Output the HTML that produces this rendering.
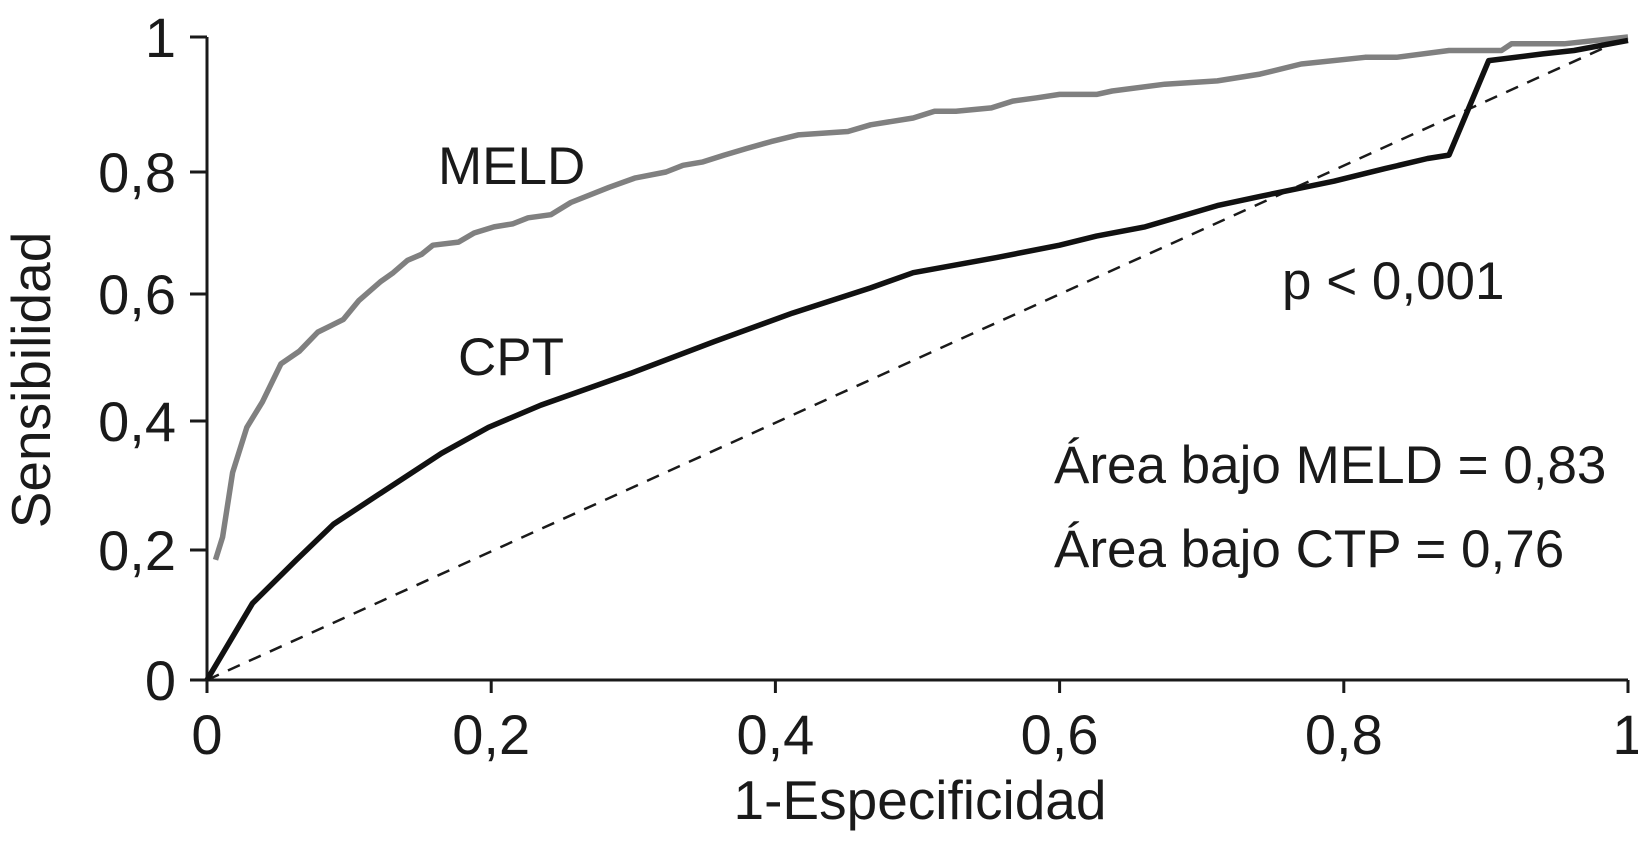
<!DOCTYPE html>
<html><head><meta charset="utf-8"><style>
html,body{margin:0;padding:0;background:#fff;}
svg text{font-family:"Liberation Sans",sans-serif;fill:#1a1a1a;}
</style></head><body>
<svg id="chart" width="1638" height="859" viewBox="0 0 1638 859" xmlns="http://www.w3.org/2000/svg">
<g id="axes"></g>
<g id="marks"></g>
<text x="438" y="184" font-size="53">MELD</text>
<text x="458" y="375" font-size="53">CPT</text>
<text x="1282" y="299" font-size="53">p &lt; 0,001</text>
<text x="1054" y="483" font-size="53">Área bajo MELD = 0,83</text>
<text x="1054" y="567" font-size="53">Área bajo CTP = 0,76</text>
<text x="920" y="819" font-size="55" text-anchor="middle">1-Especificidad</text>
<text x="0" y="0" font-size="55" text-anchor="middle" transform="translate(50,380) rotate(-90)">Sensibilidad</text>
</svg>
<script>
const xTickValues = [0, 0.2, 0.4, 0.6, 0.8, 1];
const xTickLabels = ["0", "0,2", "0,4", "0,6", "0,8", "1"];
const yTickValues = [0, 0.2, 0.4, 0.6, 0.8, 1];
const yTickLabels = ["0", "0,2", "0,4", "0,6", "0,8", "1"];
const meldX = [0.006,0.011,0.018,0.028,0.039,0.052,0.065,0.078,0.087,0.096,0.107,0.122,0.131,0.141,0.151,0.159,0.177,0.188,0.202,0.215,0.226,0.242,0.256,0.283,0.301,0.323,0.335,0.349,0.364,0.380,0.397,0.416,0.451,0.467,0.497,0.512,0.527,0.552,0.567,0.584,0.600,0.626,0.637,0.674,0.711,0.741,0.770,0.815,0.837,0.874,0.911,0.918,0.955,1.0];
const meldY = [0.185,0.22,0.32,0.39,0.43,0.49,0.51,0.54,0.55,0.56,0.59,0.62,0.635,0.655,0.665,0.68,0.685,0.70,0.71,0.715,0.725,0.73,0.75,0.775,0.79,0.80,0.81,0.815,0.825,0.835,0.845,0.855,0.86,0.87,0.88,0.89,0.89,0.895,0.905,0.91,0.915,0.915,0.92,0.93,0.935,0.945,0.96,0.97,0.97,0.98,0.98,0.99,0.99,1.0];
const cptX = [0,0.032,0.063,0.089,0.120,0.165,0.198,0.235,0.298,0.357,0.412,0.467,0.497,0.556,0.600,0.626,0.660,0.711,0.741,0.793,0.829,0.859,0.874,0.902,0.940,0.962,1.0];
const cptY = [0,0.118,0.185,0.24,0.285,0.35,0.39,0.425,0.475,0.525,0.57,0.61,0.635,0.66,0.68,0.695,0.71,0.745,0.76,0.785,0.805,0.82,0.825,0.965,0.975,0.98,0.995];
const refX = [0, 1];
const refY = [0, 1];

const X0 = 207, X1 = 1628;
const yPix = [680, 550, 421, 294, 172, 37];
function xs(v){ return X0 + v*(X1-X0); }
function ys(v){
  const s = v/0.2; let i = Math.floor(s); if(i<0) i=0; if(i>4) i=4;
  const f = s - i; return yPix[i] + f*(yPix[i+1]-yPix[i]);
}
const NS = "http://www.w3.org/2000/svg";
const axes = document.getElementById('axes');
const marks = document.getElementById('marks');
function mk(tag, attrs, parent){ const e=document.createElementNS(NS,tag); for(const k in attrs) e.setAttribute(k,attrs[k]); parent.appendChild(e); return e; }

let el = mk('line',{x1:X0,y1:ys(0),x2:X1,y2:ys(0),stroke:'#1a1a1a','stroke-width':3},axes);


el = mk('line',{x1:X0,y1:ys(0)+12,x2:X0,y2:ys(1),stroke:'#1a1a1a','stroke-width':3},axes);



xTickValues.forEach((v,i)=>{
  const t = mk('line',{x1:xs(v),y1:ys(0),x2:xs(v),y2:ys(0)+13,stroke:'#1a1a1a','stroke-width':3},axes);
  
  
  const tx = mk('text',{x:xs(v),y:ys(0)+74,'font-size':56,'text-anchor':'middle'},axes);
  tx.textContent = xTickLabels[i];
  
  
});
yTickValues.forEach((v,i)=>{
  const t = mk('line',{x1:X0-17,y1:ys(v),x2:X0,y2:ys(v),stroke:'#1a1a1a','stroke-width':3},axes);
  
  
  const tx = mk('text',{x:176,y:ys(v)+20,'font-size':56,'text-anchor':'end'},axes);
  tx.textContent = yTickLabels[i];
  
  
});
function pts(xa,ya){ return xa.map((x,i)=>xs(x).toFixed(1)+','+ys(ya[i]).toFixed(1)).join(' '); }
el = mk('polyline',{points:pts(refX,refY),fill:'none',stroke:'#1a1a1a','stroke-width':2.5,'stroke-dasharray':'13,10'},marks);


el = mk('polyline',{points:pts(meldX,meldY),fill:'none',stroke:'#808080','stroke-width':5.5,'stroke-linejoin':'round'},marks);


el = mk('polyline',{points:pts(cptX,cptY),fill:'none',stroke:'#111','stroke-width':5.5,'stroke-linejoin':'round'},marks);


</script>
</body></html>
